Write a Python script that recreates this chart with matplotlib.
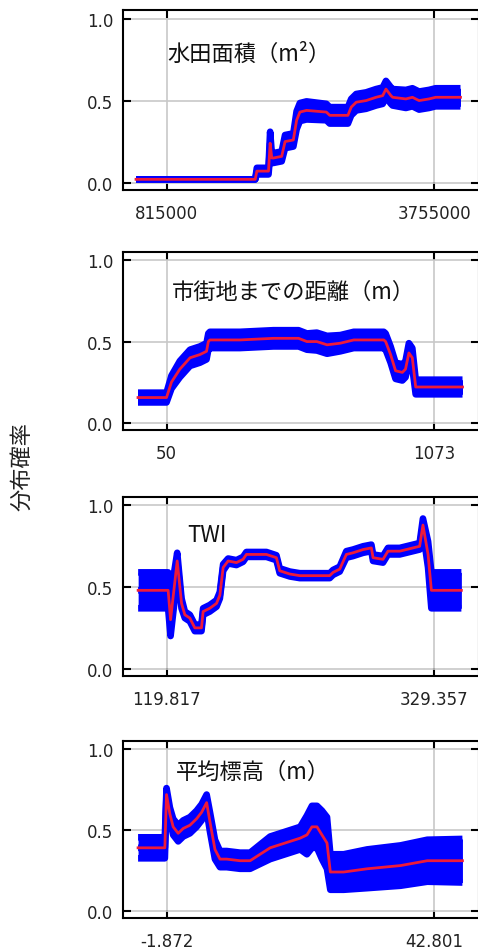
import matplotlib
matplotlib.use("Agg")
import matplotlib.pyplot as plt
import numpy as np

plt.rcParams['font.family'] = ['DejaVu Sans']

# ---- data ----
titles = ["水田面積（m²）", "市街地までの距離（m）", "TWI", "平均標高（m）"]
tick_vals = [[815000, 3755000], [50, 1073], [119.817, 329.357], [-1.872, 42.801]]
tick_labels = [["815000", "3755000"], ["50", "1073"], ["119.817", "329.357"], ["-1.872", "42.801"]]
ylabel = "分布確率"

x1 = [480000, 1790000, 1808000, 1936000, 1954000, 1972000, 1990000, 2081000, 2118000,
      2209000, 2245000, 2281000, 2354000, 2572000, 2609000, 2809000, 2845000, 2900000,
      3009000, 3118000, 3191000, 3227000, 3282000, 3300000, 3446000, 3518000, 3591000,
      3700000, 3773000, 4046000]
m1 = [0.02, 0.02, 0.07, 0.07, 0.24, 0.15, 0.15, 0.16, 0.25, 0.26, 0.38, 0.43, 0.44, 0.43,
      0.41, 0.41, 0.46, 0.49, 0.50, 0.52, 0.53, 0.57, 0.53, 0.52, 0.51, 0.52, 0.50, 0.51,
      0.52, 0.52]
s1 = [0.0, 0.0, 0.02, 0.02, 0.07, 0.03, 0.03, 0.03, 0.04, 0.04, 0.055, 0.055, 0.055, 0.05,
      0.05, 0.05, 0.05, 0.05, 0.05, 0.05, 0.05, 0.05, 0.05, 0.05, 0.055, 0.055, 0.055, 0.055,
      0.055, 0.055]

x2 = [-59, 50, 69, 101, 140, 178, 203, 210, 216, 331, 459, 555, 587, 625, 664, 715, 766,
      817, 881, 888, 907, 926, 952, 964, 977, 990, 1003, 1182]
m2 = [0.155, 0.155, 0.25, 0.33, 0.40, 0.42, 0.44, 0.50, 0.51, 0.51, 0.52, 0.52, 0.50, 0.50,
      0.48, 0.49, 0.51, 0.51, 0.51, 0.50, 0.42, 0.32, 0.31, 0.33, 0.43, 0.40, 0.22, 0.22]
s2 = [0.03, 0.03, 0.04, 0.05, 0.05, 0.05, 0.05, 0.05, 0.05, 0.05, 0.05, 0.05, 0.05, 0.055,
      0.055, 0.05, 0.05, 0.05, 0.05, 0.05, 0.05, 0.05, 0.05, 0.05, 0.06, 0.06, 0.045, 0.045]

x3 = [97.6, 121.1, 123.0, 125.6, 128.2, 131.6, 134.2, 138.1, 142.0, 147.2, 148.5, 153.7,
      159.0, 161.6, 164.2, 168.1, 174.6, 179.8, 182.4, 198.1, 205.9, 208.5, 216.4, 224.2,
      247.7, 250.3, 255.5, 260.7, 265.9, 273.8, 280.3, 281.6, 289.4, 293.3, 302.5, 307.7,
      318.1, 320.7, 324.7, 327.3, 350.8]
m3 = [0.48, 0.48, 0.30, 0.48, 0.66, 0.40, 0.33, 0.31, 0.25, 0.25, 0.35, 0.37, 0.40, 0.45,
      0.62, 0.66, 0.65, 0.67, 0.70, 0.70, 0.68, 0.60, 0.58, 0.57, 0.57, 0.59, 0.61, 0.70,
      0.71, 0.73, 0.74, 0.68, 0.67, 0.72, 0.72, 0.73, 0.75, 0.88, 0.70, 0.48, 0.48]
s3 = [0.11, 0.11, 0.10, 0.10, 0.05, 0.03, 0.02, 0.02, 0.02, 0.02, 0.02, 0.02, 0.02, 0.02,
      0.02, 0.015, 0.015, 0.015, 0.015, 0.015, 0.015, 0.015, 0.015, 0.015, 0.015, 0.015,
      0.015, 0.02, 0.02, 0.02, 0.02, 0.02, 0.02, 0.02, 0.02, 0.02, 0.02, 0.04, 0.08, 0.11, 0.11]

x4 = [-6.62, -2.15, -1.87, -1.31, -0.76, 0.08, 0.92, 2.04, 3.15, 3.99, 4.83, 5.39, 6.22,
      7.06, 8.18, 10.41, 12.09, 13.76, 15.44, 17.11, 18.79, 20.46, 21.58, 22.42, 23.26,
      24.09, 24.93, 25.49, 27.72, 31.63, 37.22, 41.68, 47.55]
m4 = [0.39, 0.39, 0.72, 0.60, 0.52, 0.48, 0.51, 0.53, 0.57, 0.61, 0.67, 0.55, 0.38, 0.32,
      0.32, 0.31, 0.31, 0.35, 0.39, 0.41, 0.43, 0.45, 0.47, 0.52, 0.52, 0.47, 0.42, 0.24,
      0.24, 0.26, 0.28, 0.31, 0.31]
s4 = [0.065, 0.065, 0.04, 0.04, 0.05, 0.05, 0.05, 0.05, 0.05, 0.05, 0.05, 0.06, 0.06, 0.05,
      0.05, 0.05, 0.05, 0.06, 0.07, 0.07, 0.07, 0.07, 0.12, 0.13, 0.13, 0.15, 0.16, 0.11,
      0.11, 0.12, 0.125, 0.13, 0.135]

xs = [x1, x2, x3, x4]
ms = [m1, m2, m3, m4]
ss = [s1, s2, s3, s4]

# ---- layout ----
fig = plt.figure(figsize=(4.78, 9.53), dpi=100)
W, H = 478, 953
left_px, right_px = 123, 479
boxes = [(11, 191), (253, 431), (498, 677), (742, 919)]
title_pos = [(0.126, 0.761), (0.138, 0.781), (0.18, 0.793), (0.149, 0.83)]
f1, f2 = 0.1222, 0.8736  # fraction positions of the two ticks

jp = ['Noto Sans CJK JP', 'DejaVu Sans']

for i in range(4):
    top, bot = boxes[i]
    ax = fig.add_axes([left_px / W, (H - bot) / H, (right_px - left_px) / W, (bot - top) / H])
    x = np.array(xs[i], float)
    m = np.array(ms[i], float)
    s = np.array(ss[i], float)
    ax.fill_between(x, m - s, m + s, color='#0000ff', lw=0, zorder=2)
    for yy in (m - s, m + s, m):
        ax.plot(x, yy, color='#0000ff', lw=4.8, solid_capstyle='butt', solid_joinstyle='round', zorder=3)
    ax.plot(x, m, color='#ee1a3a', lw=2.0, solid_joinstyle='round', zorder=4)

    t1, t2 = tick_vals[i]
    span = (t2 - t1) / (f2 - f1)
    xmin = t1 - f1 * span
    ax.set_xlim(xmin, xmin + span)
    ax.set_ylim(-0.045, 1.052)
    ax.set_xticks([t1, t2])
    ax.set_xticklabels(tick_labels[i])
    ax.set_yticks([0.0, 0.5, 1.0])
    ax.set_yticklabels(["0.0", "0.5", "1.0"])
    ax.grid(True, color='#c8c8c8', lw=1.2, zorder=1)
    ax.set_axisbelow(True)
    ax.tick_params(axis='both', direction='in', top=True, right=True, length=6, width=1.5,
                   labelsize=12, labelcolor='#222222', color='black')
    ax.tick_params(axis='x', pad=10)
    ax.tick_params(axis='y', pad=7)
    for sp in ax.spines.values():
        sp.set_linewidth(1.5)
        sp.set_color('black')
    ax.text(title_pos[i][0], title_pos[i][1], titles[i], transform=ax.transAxes,
            ha='left', va='center', fontsize=16, family=jp, color='#111111', zorder=5)

fig.text(22 / W, 1 - 467 / H, ylabel, rotation=90, ha='center', va='center',
         fontsize=16, family=jp, color='#222222')

fig.savefig("out.png", dpi=100)
